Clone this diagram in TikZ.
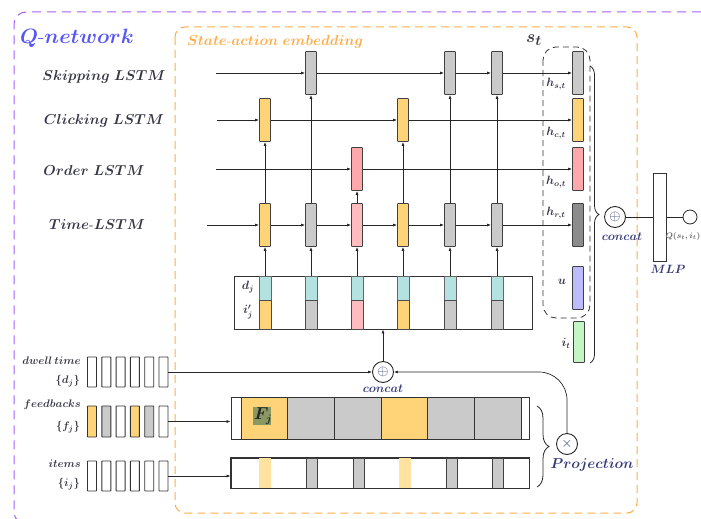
\documentclass[tikz,border=0pt]{standalone}
\usepackage{amsmath,bm}
\usetikzlibrary{arrows.meta,decorations.pathreplacing,calc}

\definecolor{cyel}{RGB}{255,211,120}
\definecolor{cgray}{RGB}{202,202,202}
\definecolor{cpinkL}{RGB}{255,188,190}
\definecolor{cpink}{RGB}{255,168,172}
\definecolor{cdark}{RGB}{140,140,140}
\definecolor{cblue}{RGB}{188,188,252}
\definecolor{cgreen}{RGB}{196,246,196}
\definecolor{cteal}{RGB}{180,226,224}
\definecolor{cpale}{RGB}{255,226,160}
\definecolor{qpurple}{RGB}{165,95,250}
\definecolor{qtext}{RGB}{85,85,250}
\definecolor{corange}{RGB}{255,172,72}
\definecolor{fhl}{RGB}{140,152,98}
\definecolor{lbltext}{RGB}{55,55,70}
\definecolor{optext}{RGB}{55,60,120}

\begin{document}
\begin{tikzpicture}[x=1pt,y=-1pt,
  >={Latex[length=4pt,width=3pt]},
  conn/.style={draw=black!85, line width=0.7pt},
  arr/.style={conn,->},
  cell/.style={draw=black!75, line width=0.8pt, minimum width=11pt,
    minimum height=43pt, inner sep=0pt, rounded corners=0.6pt},
  seqbox/.style={draw=black!80, line width=0.9pt, minimum width=9pt,
    minimum height=30pt, inner sep=0pt, rounded corners=0.5pt},
  segtop/.style={draw=black!60, line width=0.6pt, minimum width=12pt,
    minimum height=24pt, inner sep=0pt},
  segbot/.style={draw=black!70, line width=0.7pt, minimum width=12pt,
    minimum height=29pt, inner sep=0pt},
  rowlbl/.style={font=\fontsize{14}{16}\selectfont\boldmath, text=lbltext},
  sidelbl/.style={font=\fontsize{11}{13}\selectfont\boldmath, text=lbltext, anchor=east, inner sep=0pt},
  hlbl/.style={font=\fontsize{12}{14}\selectfont\boldmath, text=lbltext, inner sep=0pt},
  opcirc/.style={circle, draw=black!85, line width=0.9pt, minimum size=21pt, inner sep=0pt,
    font=\fontsize{15}{15}\selectfont, text=optext},
  ital/.style={font=\fontsize{13}{15}\selectfont\boldmath, text=optext}
]
\useasboundingbox (0,0) rectangle (701,519);
\clip (0,0) rectangle (701,519);

% outer frame (runs past the right and bottom edges) and embedding frame
\draw[qpurple, line width=1pt, dash pattern=on 9pt off 6pt, rounded corners=12pt]
  (701,12) -- (14,12) -- (14,524) -- (701,524);
\node[qtext, font=\fontsize{21}{24}\selectfont\boldmath] at (77,38) {$Q$-$network$};
\draw[corange, line width=1pt, dash pattern=on 8pt off 5pt, rounded corners=10pt]
  (175,27) rectangle (637,513);
\node[corange, anchor=west, font=\fontsize{13.5}{15}\selectfont\boldmath, inner sep=0pt] at (187,42)
  {$State$-$action\ embedding$};

% row titles
\node[rowlbl] at (104,77) {$Skipping\ LSTM$};
\node[rowlbl] at (104,121) {$Clicking\ LSTM$};
\node[rowlbl] at (94,170) {$Order\ LSTM$};
\node[rowlbl] at (97,225) {$Time$-$LSTM$};

% input sequence box (d_j over i'_j)
\node[draw=black!80, line width=0.8pt, minimum width=298pt, minimum height=53pt, inner sep=0pt]
  (inbox) at (383,302.5) {};
\node[hlbl] at (248,287) {$d_j$};
\node[hlbl] at (248,312) {$i'_j$};

% time-LSTM cells and their inputs
\foreach \i/\x/\c in {1/265/cyel,2/311/cgray,3/357/cpinkL,4/403/cyel,5/450/cgray,6/497/cgray}{
  \node[cell, fill=\c] (t\i) at (\x,225) {};
  \node[segtop, fill=cteal] (d\i) at (\x,288) {};
  \node[segbot, fill=\c] (e\i) at (\x,314.5) {};
  \draw[arr] (d\i) -- (t\i);
}

% behaviour cells
\node[cell, fill=cgray] (s2) at (311,73) {};
\node[cell, fill=cgray] (s5) at (450,73) {};
\node[cell, fill=cgray] (s6) at (497,73) {};
\node[cell, fill=cyel] (c1) at (265,120) {};
\node[cell, fill=cyel] (c4) at (403,120) {};
\node[cell, fill=cpink] (o3) at (357,169) {};

% state cells
\node[cell, fill=cgray] (sF) at (578,73) {};
\node[cell, fill=cyel] (cF) at (578,120) {};
\node[cell, fill=cpink] (oF) at (578,169) {};
\node[cell, fill=cdark] (tF) at (578,225) {};
\node[cell, fill=cblue] (uF) at (578,288) {};
\node[cell, fill=cgreen, minimum height=41pt] (iF) at (579,342) {};

% row inputs
\coordinate (sIn) at (216,73);
\coordinate (cIn) at (217,120);
\coordinate (oIn) at (216,169);
\coordinate (tIn) at (207,225);

% skipping row
\draw[arr] (sIn) -- (s2);
\draw[arr] (s2) -- (s5);
\draw[arr] (s5) -- (s6);
\draw[arr] (s6) -- (sF);
% clicking row
\draw[arr] (cIn) -- (c1);
\draw[arr] (c1) -- (c4);
\draw[arr] (c4) -- (cF);
% order row
\draw[arr] (oIn) -- (o3);
\draw[arr] (o3) -- (oF);
% time row
\draw[arr] (tIn) -- (t1);
\draw[arr] (t1) -- (t2);
\draw[arr] (t2) -- (t3);
\draw[arr] (t3) -- (t4);
\draw[arr] (t4) -- (t5);
\draw[arr] (t5) -- (t6);
\draw[arr] (t6) -- (tF);
% time cells feed behaviour cells
\draw[arr] (t1) -- (c1);
\draw[arr] (t2) -- (s2);
\draw[arr] (t3) -- (o3);
\draw[arr] (t4) -- (c4);
\draw[arr] (t5) -- (s5);
\draw[arr] (t6) -- (s6);

% state group
\draw[black!80, line width=0.8pt, dash pattern=on 6pt off 4pt, rounded corners=13pt]
  (543,47) rectangle (590,318);
\node[font=\fontsize{19}{21}\selectfont\boldmath, text=lbltext] at (534,40) {$s_t$};
\node[hlbl] at (556,84) {$h_{s,t}$};
\node[hlbl] at (556,133) {$h_{c,t}$};
\node[hlbl] at (556,182) {$h_{o,t}$};
\node[hlbl] at (556,213) {$h_{r,t}$};
\node[hlbl] at (562,282) {$u$};
\node[hlbl] at (566,343) {$i_t$};

% concatenation and MLP
\draw[black!85, line width=0.8pt, decorate, decoration={brace, amplitude=9pt}]
  (590,66) -- (590,363);
\node[opcirc] (cat2) at (615,217) {$\oplus$};
\node[ital] at (622,237) {$concat$};
\node[draw=black!80, line width=0.8pt, minimum width=13pt, minimum height=88pt, inner sep=0pt]
  (mlp) at (659.5,217) {};
\node[circle, draw=black!85, line width=0.8pt, minimum size=14pt, inner sep=0pt] (qout) at (690,217) {};
\draw[conn] (cat2) -- (mlp);
\draw[conn] (mlp) -- (qout);
\node[font=\fontsize{8.5}{10}\selectfont\boldmath, text=black!60] at (683,236) {$Q(s_t,i_t)$};
\node[font=\fontsize{12}{14}\selectfont\boldmath, text=optext] at (668,269) {$MLP$};

% raw sequences on the left
\node[sidelbl] at (81,361) {$dwell\,time$};
\node[sidelbl] at (80,381) {$\{d_j\}$};
\node[sidelbl] at (81,405) {$feedbacks$};
\node[sidelbl] at (80,427) {$\{f_j\}$};
\node[sidelbl] at (81,464) {$items$};
\node[sidelbl] at (80,484) {$\{i_j\}$};
\foreach \k/\x/\c in {1/92/white,2/106.3/white,3/120.6/white,4/134.9/white,5/149.2/white,6/163.5/white}{
  \node[seqbox, fill=\c] (dw\k) at (\x,372) {};
}
\foreach \k/\x/\c in {1/92/cyel,2/106.3/cgray,3/120.6/white,4/134.9/cyel,5/149.2/cgray,6/163.5/white}{
  \node[seqbox, fill=\c, minimum height=31pt] (fb\k) at (\x,421.5) {};
}
\foreach \k/\x/\c in {1/92/white,2/106.3/white,3/120.6/white,4/134.9/white,5/149.2/white,6/163.5/white}{
  \node[seqbox, fill=\c] (it\k) at (\x,476) {};
}

% feedback embedding bar
\foreach \k/\c in {1/cyel,2/cgray,3/cgray,4/cyel,5/cgray,6/cgray}{
  \pgfmathsetmacro{\xa}{241+46.67*(\k-1)}
  \pgfmathsetmacro{\xb}{241+46.67*\k}
  \draw[fill=\c, draw=black!80, line width=0.8pt] (\xa,397) rectangle (\xb,439);
}
\node[draw=black!80, line width=0.8pt, minimum width=298pt, minimum height=42pt, inner sep=0pt]
  (Fbar) at (380,418) {};
\fill[fhl] (253,407) rectangle (271,425);
\node[font=\fontsize{16}{18}\selectfont\boldmath, text=black!85] at (263,416) {$F_j$};

% item embedding bar
\node[draw=black!80, line width=0.8pt, minimum width=298pt, minimum height=30pt, inner sep=0pt]
  (Ibar) at (380,473) {};
\foreach \x/\c/\d in {265/cpale/cpale,312/cgray/black!75,358.5/cgray/black!75,404.5/cpale/cpale,451.5/cgray/black!75,497.5/cgray/black!75}{
  \draw[fill=\c, draw=\d, line width=0.8pt] (\x-5.5,458) rectangle (\x+5.5,488);
}
\draw[black!80, line width=0.8pt] (Ibar.north west) rectangle (Ibar.south east);

% inputs into bars and concat
\node[opcirc] (cat1) at (383,372) {$\oplus$};
\node[ital] at (383,389) {$concat$};
\draw[arr] (cat1) -- (inbox);
\draw[arr] (dw6) -- (cat1);
\draw[arr] (fb6.east) -- (fb6.east -| Fbar.west);
\draw[arr] (it6.east) -- (it6.east -| Ibar.west);

% projection
\draw[black!85, line width=0.8pt, decorate, decoration={brace, amplitude=12pt}]
  (537,406) -- (537,487);
\node[opcirc] (proj) at (567,444) {$\times$};
\node[ital, font=\fontsize{14}{16}\selectfont\boldmath] at (592,465) {$Projection$};
\draw[arr, rounded corners=28pt] (proj.north) |- (cat1.east);
\end{tikzpicture}
\end{document}
